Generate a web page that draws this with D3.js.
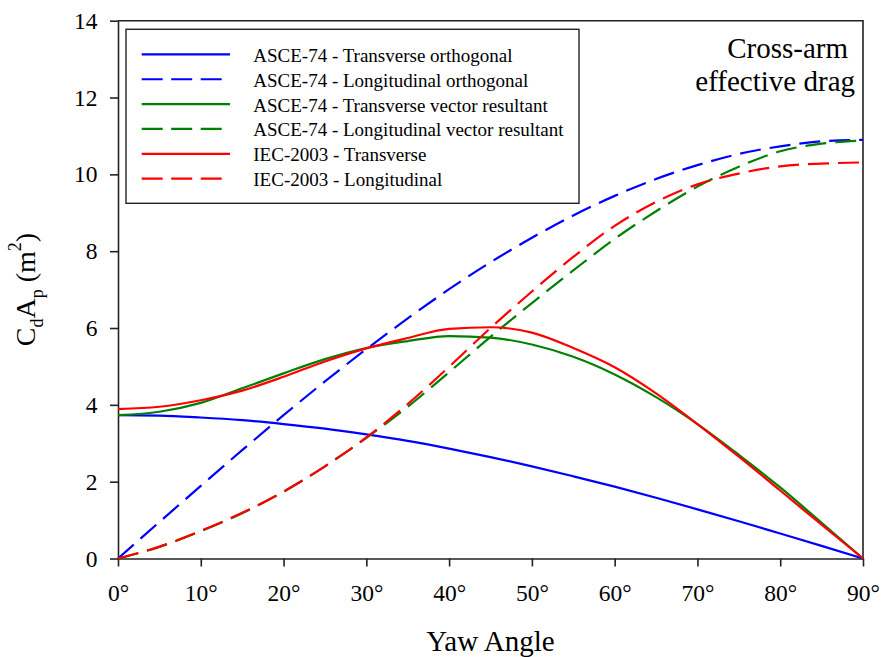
<!DOCTYPE html>
<html lang="en">
<head>
<meta charset="UTF-8" />
<title>Cross-arm effective drag</title>
<script src="https://d3js.org/d3.v7.min.js"></script>
</head>
<body style="margin:0; background:#fff;">
<svg id="chart" width="881" height="657"></svg>
<script>
// yaw angle (degrees)
const angles = [0, 5, 10, 15, 20, 25, 30, 35, 40, 45, 50, 55, 60, 65, 70, 75, 80, 85, 90];

// CdAp (m^2)
const asceTransOrtho = [3.73, 3.72, 3.67, 3.60, 3.50, 3.38, 3.23, 3.06, 2.86, 2.64, 2.40, 2.14, 1.87, 1.58, 1.28, 0.97, 0.65, 0.33, 0];
const asceLongOrtho = [0, 0.95, 1.89, 2.82, 3.73, 4.61, 5.45, 6.25, 7.01, 7.71, 8.35, 8.93, 9.44, 9.88, 10.24, 10.53, 10.73, 10.86, 10.9];
const asceTransVec = [3.73, 3.82, 4.05, 4.43, 4.82, 5.19, 5.48, 5.66, 5.79, 5.75, 5.57, 5.25, 4.79, 4.2, 3.5, 2.7, 1.85, 0.93, 0];
const asceLongVec = [0, 0.3, 0.71, 1.18, 1.74, 2.4, 3.14, 3.95, 4.85, 5.77, 6.65, 7.5, 8.32, 9.04, 9.68, 10.2, 10.6, 10.8, 10.88];
const iecTrans = [3.89, 3.95, 4.12, 4.37, 4.73, 5.13, 5.47, 5.74, 5.98, 6.02, 5.88, 5.48, 4.98, 4.3, 3.5, 2.65, 1.77, 0.88, 0];
const iecLong = [0, 0.31, 0.72, 1.19, 1.74, 2.4, 3.15, 4.02, 4.99, 6.0, 6.95, 7.85, 8.66, 9.28, 9.74, 10.02, 10.21, 10.28, 10.31];

const seriesNames = [
  "ASCE-74 - Transverse orthogonal",
  "ASCE-74 - Longitudinal orthogonal",
  "ASCE-74 - Transverse vector resultant",
  "ASCE-74 - Longitudinal vector resultant",
  "IEC-2003 - Transverse",
  "IEC-2003 - Longitudinal"
];
const seriesValues = [asceTransOrtho, asceLongOrtho, asceTransVec, asceLongVec, iecTrans, iecLong];
const seriesColors = ["#0000ff", "#0000ff", "#008000", "#008000", "#ff0000", "#ff0000"];
const seriesDashed = [false, true, false, true, false, true];

const yTicks = [0, 2, 4, 6, 8, 10, 12, 14];
const xTicks = [0, 10, 20, 30, 40, 50, 60, 70, 80, 90];

const FONT = '"Liberation Serif", "Times New Roman", serif';

const svg = d3.select("#chart").style("font-family", FONT);
const plot = { left: 118, right: 863, top: 20.7, bottom: 558.5 };

const xScale = d3.scaleLinear().domain([0, 90]).range([plot.left, plot.right]);
const yScale = d3.scaleLinear().domain([0, 14]).range([plot.bottom, plot.top]);

// axes
const yAxis = d3.axisLeft(yScale).tickValues(yTicks).tickSize(8).tickSizeOuter(0).tickPadding(12.5).tickFormat(d => d);
const xAxis = d3.axisBottom(xScale).tickValues(xTicks).tickSize(8).tickSizeOuter(0).tickPadding(18).tickFormat(d => d + "°");

const gy = svg.append("g").attr("transform", `translate(${plot.left},0)`).call(yAxis);
const gx = svg.append("g").attr("transform", `translate(0,${plot.bottom})`).call(xAxis);
[gx, gy].forEach(g => {
  g.attr("font-family", null).attr("font-size", null);
  g.selectAll("path.domain").attr("stroke", "#222").attr("stroke-width", 1.6);
  g.selectAll(".tick line").attr("stroke", "#222").attr("stroke-width", 1.6);
  g.selectAll(".tick text")
    .style("font-family", FONT)
    .style("font-size", "23.5px")
    .attr("fill", "#000");
});

// frame top and right
svg.append("path")
  .attr("d", `M${plot.left},${plot.top}H${plot.right}V${plot.bottom}`)
  .attr("fill", "none")
  .attr("stroke", "#222")
  .attr("stroke-width", 1.6);

// lines
const lineGen = d3.line()
  .x((d, i) => xScale(angles[i]))
  .y(d => yScale(d))
  .curve(d3.curveMonotoneX);

seriesValues.forEach((vals, i) => {
  svg.append("path")
    .datum(vals)
    .attr("fill", "none")
    .attr("stroke", seriesColors[i])
    .attr("stroke-width", 2.2)
    .attr("stroke-dasharray", seriesDashed[i] ? "21,9" : null)
    .attr("d", lineGen);
});

// legend
const legend = svg.append("g");
legend.append("rect")
  .attr("x", 126).attr("y", 29.3)
  .attr("width", 453).attr("height", 174)
  .attr("fill", "#fff")
  .attr("stroke", "#222")
  .attr("stroke-width", 1.4);

seriesNames.forEach((name, i) => {
  const ly = 54.4 + i * 24.85;
  legend.append("line")
    .attr("x1", 141.7).attr("x2", 230)
    .attr("y1", ly).attr("y2", ly)
    .attr("stroke", seriesColors[i])
    .attr("stroke-width", 2.2)
    .attr("stroke-dasharray", seriesDashed[i] ? "21,8.5" : null);
  legend.append("text")
    .attr("x", 253.3).attr("y", ly + 7.5)
    .style("font-family", FONT)
    .style("font-size", "19px")
    .text(name);
});

// annotation
svg.append("text").attr("x", 848).attr("y", 58.3).attr("text-anchor", "end")
  .style("font-family", FONT).style("font-size", "29px").text("Cross-arm");
svg.append("text").attr("x", 855).attr("y", 90.7).attr("text-anchor", "end")
  .style("font-family", FONT).style("font-size", "29px").text("effective drag");

// axis titles
svg.append("text")
  .attr("x", (plot.left + plot.right) / 2).attr("y", 651)
  .attr("text-anchor", "middle")
  .style("font-family", FONT)
  .style("font-size", "29px")
  .text("Yaw Angle");

const yTitle = svg.append("text")
  .attr("transform", `translate(35,${(plot.top + plot.bottom) / 2}) rotate(-90)`)
  .attr("text-anchor", "middle")
  .style("font-family", FONT)
  .style("font-size", "28px");
yTitle.append("tspan").text("C");
yTitle.append("tspan").attr("dy", 8).style("font-size", "18px").text("d");
yTitle.append("tspan").attr("dy", -8).text("A");
yTitle.append("tspan").attr("dy", 8).style("font-size", "18px").text("p");
yTitle.append("tspan").attr("dy", -8).text(" (m");
yTitle.append("tspan").attr("dy", -14).style("font-size", "18px").text("2");
yTitle.append("tspan").attr("dy", 14).text(")");
</script>
</body>
</html>
